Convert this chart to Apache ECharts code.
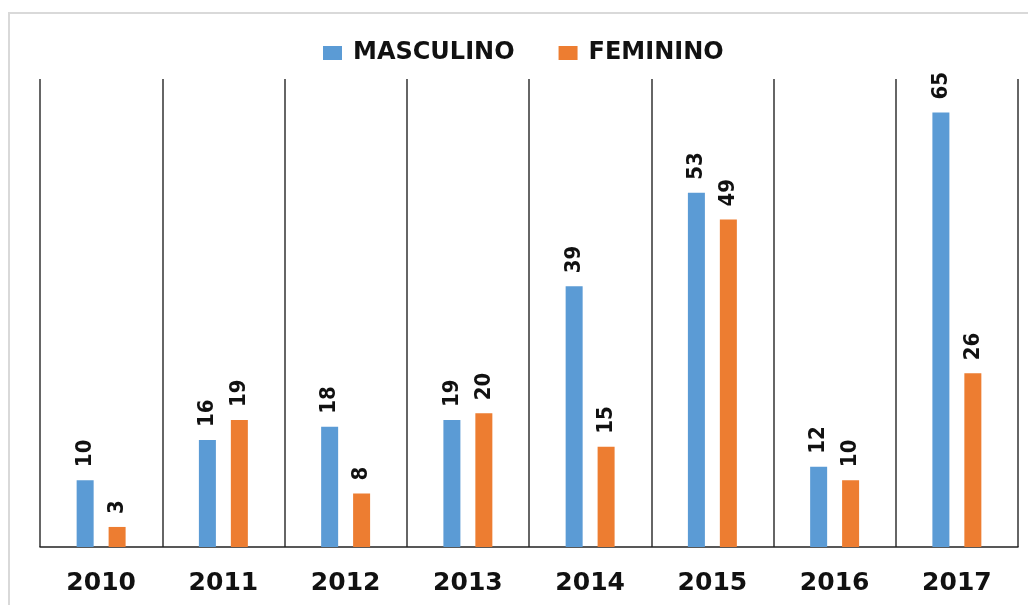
<!DOCTYPE html>
<html>
<head>
<meta charset="utf-8">
<script src="https://cdn.jsdelivr.net/npm/echarts@6/dist/echarts.min.js"></script>
<style>
html, body { margin: 0; padding: 0; background: #fff; }
#chart { width: 1028px; height: 605px; }
</style>
</head>
<body>
<div id="chart"></div>
<script>
const years = ['2010', '2011', '2012', '2013', '2014', '2015', '2016', '2017'];
const masculino = [10, 16, 18, 19, 39, 53, 12, 65];
const feminino = [3, 19, 8, 20, 15, 49, 10, 26];

const chart = echarts.init(document.getElementById('chart'));

// value labels: tall and narrow, standing on the bars
const barLabel = {
  show: true,
  position: 'top',
  rotate: 90,
  align: 'left',
  verticalAlign: 'middle',
  distance: 13,
  color: '#111',
  fontFamily: '"Liberation Sans Narrow", "DejaVu Sans Condensed", sans-serif',
  fontWeight: 'bold',
  fontSize: 22
};

chart.setOption({
  animation: false,
  // light frame round the chart area
  graphic: [{
    type: 'rect',
    shape: { x: 9, y: 13, width: 1100, height: 700 },
    style: { fill: 'none', stroke: '#d9d9d9', lineWidth: 2 },
    silent: true
  }],
  legend: {
    top: 36,
    left: 318,
    itemWidth: 19,
    itemHeight: 14,
    itemGap: 44,
    icon: 'rect',
    textStyle: {
      color: '#111',
      fontFamily: 'DejaVu Sans',
      fontWeight: 'bold',
      fontSize: 24,
      padding: [0, 0, 0, 6]
    },
    data: ['MASCULINO', 'FEMININO']
  },
  grid: { left: 40, right: 10, top: 79, bottom: 58 },
  xAxis: {
    type: 'category',
    data: years,
    axisLine: { lineStyle: { color: '#222', width: 1.5 } },
    axisTick: { show: false },
    axisLabel: {
      margin: 24,
      color: '#111',
      fontFamily: 'DejaVu Sans',
      fontWeight: 'bold',
      fontSize: 25
    },
    splitLine: { show: true, lineStyle: { color: '#333', width: 1.5 } }
  },
  yAxis: {
    type: 'value',
    min: 0,
    max: 70,
    show: false,
    splitLine: { show: false }
  },
  series: [
    {
      name: 'MASCULINO',
      type: 'bar',
      data: masculino,
      barWidth: 17,
      barGap: '88%',
      itemStyle: { color: '#5B9BD5' },
      label: barLabel
    },
    {
      name: 'FEMININO',
      type: 'bar',
      data: feminino,
      barWidth: 17,
      itemStyle: { color: '#ED7D31' },
      label: barLabel
    }
  ]
});
</script>
</body>
</html>
